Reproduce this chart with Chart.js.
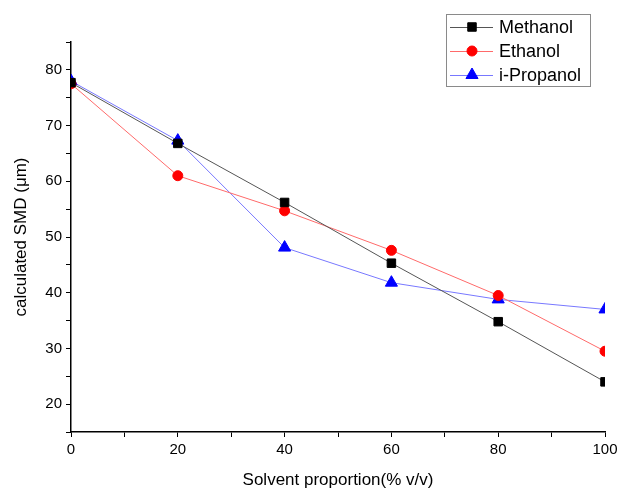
<!DOCTYPE html>
<html>
<head>
<meta charset="utf-8">
<script src="https://cdn.jsdelivr.net/npm/chart.js@4.4.0/dist/chart.umd.min.js"></script>
<style>
  html, body { margin: 0; padding: 0; background: #fff; }
  #wrap { width: 618px; height: 491px; position: relative; }
</style>
</head>
<body>
<div id="wrap"><canvas id="smd-chart"></canvas></div>
<script>
// Solvent proportion (% v/v) and calculated SMD values
const proportions = [0, 20, 40, 60, 80, 100];
const methanol = [77.7, 66.8, 56.2, 45.3, 34.8, 24.0];
const ethanol = [77.5, 61.0, 54.7, 47.6, 39.5, 29.5];
const propanol = [78.0, 67.3, 48.1, 41.8, 38.8, 37.0];

const FONT = 'Liberation Sans, Arial, sans-serif';

function toPoints(values) {
    return proportions.map((x, i) => ({ x: x, y: values[i] }));
}

// Legend box drawn inside the plot, top right
const boxLegend = {
    id: 'boxLegend',
    afterDraw(chart) {
        const ctx = chart.ctx;
        const left = 446, top = 14, width = 144, height = 72;
        ctx.save();
        ctx.strokeStyle = '#8a8a8a';
        ctx.lineWidth = 1;
        ctx.fillStyle = '#fff';
        ctx.fillRect(left, top, width, height);
        ctx.strokeRect(left + 0.5, top + 0.5, width, height);

        chart.data.datasets.forEach((ds, i) => {
            const y = top + 13 + i * 24;
            ctx.strokeStyle = ds.borderColor;
            ctx.lineWidth = 1;
            ctx.beginPath();
            ctx.moveTo(450, y + 0.5);
            ctx.lineTo(493, y + 0.5);
            ctx.stroke();
            ctx.fillStyle = ds.pointBackgroundColor;
            ctx.strokeStyle = ds.pointBorderColor;
            Chart.helpers.drawPoint(ctx, {
                pointStyle: ds.pointStyle,
                radius: ds.pointRadius,
                rotation: 0,
                borderWidth: 1
            }, 472, y);
            ctx.fillStyle = '#000';
            ctx.font = '18px ' + FONT;
            ctx.textBaseline = 'middle';
            ctx.textAlign = 'left';
            ctx.fillText(ds.label, 499, y + 1);
        });
        ctx.restore();
    }
};

const ctx = document.getElementById('smd-chart').getContext('2d');
new Chart(ctx, {
    type: 'line',
    data: {
        datasets: [
            {
                label: 'Methanol',
                data: toPoints(methanol),
                borderColor: '#555555',
                borderWidth: 1,
                pointStyle: 'rect',
                pointRadius: 6,
                pointBackgroundColor: '#000000',
                pointBorderColor: '#000000',
                tension: 0
            },
            {
                label: 'Ethanol',
                data: toPoints(ethanol),
                borderColor: '#ff6a6a',
                borderWidth: 1,
                pointStyle: 'circle',
                pointRadius: 5,
                pointBackgroundColor: '#ff0000',
                pointBorderColor: '#ff0000',
                tension: 0
            },
            {
                label: 'i-Propanol',
                data: toPoints(propanol),
                borderColor: '#7878ff',
                borderWidth: 1,
                pointStyle: 'triangle',
                pointRadius: 7,
                pointBackgroundColor: '#0000ff',
                pointBorderColor: '#0000ff',
                tension: 0
            }
        ]
    },
    options: {
        responsive: true,
        maintainAspectRatio: false,
        animation: false,
        layout: { padding: { top: 42, right: 0, left: 0, bottom: 0 } },
        plugins: {
            legend: { display: false },
            tooltip: { enabled: false }
        },
        scales: {
            x: {
                type: 'linear',
                min: 0,
                max: 100,
                ticks: {
                    stepSize: 10,
                    color: '#000',
                    font: { family: FONT, size: 15 },
                    padding: 4,
                    maxRotation: 0,
                    callback: v => (v % 20 === 0 ? v : '')
                },
                grid: {
                    drawOnChartArea: false,
                    tickLength: 5,
                    color: '#000'
                },
                border: { color: '#000', width: 1.5 },
                title: {
                    display: true,
                    text: 'Solvent proportion(% v/v)',
                    color: '#000',
                    font: { family: FONT, size: 17 },
                    padding: { top: 14, bottom: 0 }
                },
                afterFit(scale) {
                    scale.height = 59;
                    scale.paddingRight = 13;
                }
            },
            y: {
                type: 'linear',
                min: 15,
                max: 85,
                ticks: {
                    stepSize: 5,
                    color: '#000',
                    font: { family: FONT, size: 15 },
                    padding: 4,
                    callback: v => (v % 10 === 0 ? v : '')
                },
                grid: {
                    drawOnChartArea: false,
                    tickLength: 5,
                    color: '#000'
                },
                border: { color: '#000', width: 1.5 },
                title: {
                    display: true,
                    text: 'calculated SMD (\u03bcm)',
                    color: '#000',
                    font: { family: FONT, size: 17 },
                    padding: { top: 11, bottom: 10 }
                },
                afterFit(scale) { scale.width = 71; }
            }
        }
    },
    plugins: [boxLegend]
});
</script>
</body>
</html>
